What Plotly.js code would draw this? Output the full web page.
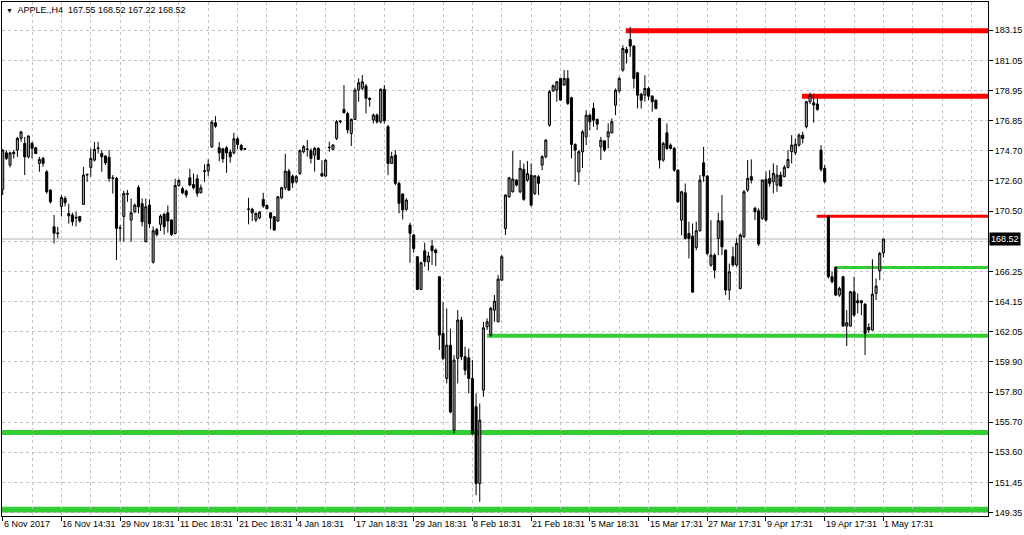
<!DOCTYPE html>
<html>
<head>
<meta charset="utf-8">
<script src="https://cdn.plot.ly/plotly-3.0.1.min.js"></script>
<style>
html,body{margin:0;padding:0;background:#fff;}
#chart{width:1024px;height:535px;}
</style>
</head>
<body>
<div id="chart"></div>
<script>
// ---------- DATA ----------
const symbol = 'APPLE.,H4';

const open = [
172.0,174.56,173.7,174.5,174.75,175.57,175.22,174.28,175.22,174.91,
173.82,174.17,173.23,171.95,169.38,168.95,170.8,171.36,170.3,170.2,
170.05,170.1,170.95,173.0,173.54,174.05,174.85,174.52,174.33,174.24,
172.77,172.77,169.27,170.1,171.66,169.85,170.43,172.13,171.0,168.33,
170.9,166.9,169.19,169.55,170.25,170.36,169.85,168.91,172.27,172.04,
171.88,172.81,172.34,172.74,171.76,173.25,173.28,174.98,176.66,174.91,
174.84,174.91,174.61,174.56,175.54,175.08,174.86,170.6,170.6,169.85,
170.01,171.3,170.88,170.36,170.08,169.78,171.41,172.11,173.28,172.93,
172.54,173.12,174.64,174.8,174.71,174.4,174.87,173.12,172.93,174.95,
174.8,175.57,176.74,177.6,177.32,175.92,176.9,178.96,179.08,179.24,
178.38,176.86,177.21,176.74,179.01,176.39,173.82,174.4,172.42,171.67,
170.6,169.5,168.8,167.28,164.99,167.7,166.93,168.03,167.75,165.88,
161.9,158.75,161.08,155.13,160.15,162.84,160.27,160.2,158.75,156.77,
151.39,157.93,162.37,161.79,163.54,162.72,165.64,169.26,171.48,171.83,
172.65,171.83,173.4,172.65,173.0,171.71,172.88,173.7,174.29,176.5,
178.89,178.96,179.77,179.31,179.77,178.42,175.15,173.23,174.63,175.68,
177.2,177.67,176.9,174.98,175.4,175.68,175.96,177.9,178.9,180.36,
181.8,182.5,182.04,180.17,178.67,178.6,179.07,178.53,178.25,176.97,
174.05,175.96,175.1,174.87,173.35,169.84,171.76,168.91,168.72,167.93,
169.1,173.86,172.93,166.69,167.39,168.56,169.8,167.74,164.94,167.28,
166.7,165.06,168.68,171.95,172.89,170.67,170.5,169.97,172.7,172.77,
172.54,172.3,173.0,172.89,173.54,174.64,174.57,175.1,175.8,176.39,
178.14,178.07,177.98,174.75,173.47,170.13,165.88,166.53,164.59,165.88,
162.42,162.42,164.82,164.19,164.19,163.96,162.33,162.14,164.71,166.3,
167.55
];
const high = [
174.8,174.75,174.63,174.75,175.68,176.1,175.68,175.8,175.33,174.98,
174.28,174.28,173.35,172.0,170.2,169.38,171.6,171.53,171.0,170.36,
170.43,170.13,173.58,173.1,174.87,175.33,175.33,174.75,174.4,174.75,
173.0,172.88,169.5,171.9,171.95,171.36,171.0,172.3,171.36,171.36,
171.3,169.4,169.3,170.25,170.36,170.87,169.9,172.74,172.74,172.18,
172.0,173.44,173.11,173.04,172.34,173.75,174.1,176.85,177.13,175.31,
174.91,175.03,174.8,175.96,175.68,175.19,174.91,171.41,170.71,170.36,
170.48,171.76,170.95,170.41,170.13,171.53,172.18,174.49,173.44,173.04,
173.0,174.8,175.11,175.46,174.87,174.99,174.95,174.05,174.1,175.34,
175.15,176.86,176.86,179.31,177.44,176.97,179.08,179.78,180.01,179.38,
178.45,177.32,177.32,179.08,179.31,176.51,174.64,174.75,172.54,171.72,
171.37,169.66,168.87,167.3,166.93,168.26,167.63,168.45,167.86,165.9,
164.1,163.66,162.25,160.38,163.54,163.07,160.97,160.85,160.03,157.7,
157.0,162.72,162.96,163.77,164.6,165.99,167.4,171.65,172.88,174.68,
172.72,174.05,173.8,173.98,173.82,173.0,173.0,174.4,175.52,178.96,
179.35,179.6,179.82,180.36,180.36,178.49,175.22,174.75,176.15,177.55,
177.32,178.07,176.97,175.68,175.45,176.62,176.97,179.07,179.89,182.1,
182.0,183.39,182.1,180.24,178.77,180.0,179.19,178.6,178.3,177.02,
175.33,176.62,175.22,174.98,173.4,171.9,172.41,169.73,169.61,169.73,
173.0,174.98,173.0,169.84,167.51,170.36,171.6,167.79,166.8,167.98,
168.56,168.91,171.95,174.05,174.1,170.79,170.67,172.7,173.24,173.35,
173.82,173.7,173.24,173.7,174.75,175.8,175.57,175.92,176.04,178.21,
178.77,178.72,178.6,175.1,173.7,170.2,166.23,166.58,165.18,165.92,
163.54,164.9,165.88,164.71,164.24,164.01,162.61,167.1,165.76,167.63,
168.52
];
const low = [
171.6,174.05,173.54,174.17,174.28,175.33,173.0,174.17,174.17,174.47,
173.23,173.58,171.7,171.0,168.21,168.56,170.1,170.8,169.6,169.45,
169.4,169.66,170.92,172.53,172.88,173.95,174.52,173.23,173.7,172.53,
171.7,167.05,168.33,168.33,171.13,168.33,170.33,170.33,169.4,168.28,
169.3,166.8,168.7,169.08,168.84,168.96,168.73,168.84,172.18,171.65,
171.41,172.23,172.0,171.48,171.72,172.5,172.93,174.91,176.31,173.98,
173.86,173.16,173.86,174.45,174.8,174.68,174.75,169.55,169.78,169.71,
169.9,170.71,170.6,169.2,169.08,169.71,171.34,171.95,171.88,172.11,
172.42,173.0,174.52,174.29,173.82,173.24,174.05,172.89,172.89,174.64,
174.75,175.46,176.62,177.32,175.92,175.04,176.86,178.14,178.96,177.32,
177.79,176.62,176.6,176.62,176.62,173.0,173.8,172.3,170.32,169.9,
170.5,166.86,167.56,164.94,164.94,166.58,166.3,166.7,166.63,160.74,
160.03,158.4,156.3,154.9,158.4,160.03,158.98,157.7,154.78,150.57,
150.1,157.47,162.14,161.67,162.72,162.68,165.57,168.8,171.41,171.78,
172.2,171.72,171.2,172.53,170.78,171.6,171.6,173.35,174.17,176.39,
178.84,178.14,178.19,179.26,177.91,174.17,172.53,172.3,173.5,175.1,
176.15,176.38,176.15,174.05,174.63,174.87,175.92,177.2,178.77,180.24,
180.82,181.29,179.07,177.67,177.67,178.14,178.25,177.44,177.6,173.46,
173.93,174.75,174.8,173.23,171.06,168.79,168.49,167.16,164.75,167.74,
169.03,172.53,167.39,166.57,165.76,167.39,167.39,164.59,164.24,166.58,
166.58,164.99,168.6,171.83,172.42,169.85,168.03,169.85,169.73,172.19,
171.72,171.83,172.19,172.84,173.47,173.82,174.4,174.99,175.22,176.27,
177.98,176.67,177.51,173.24,172.42,165.76,165.41,164.52,164.47,162.37,
161.02,162.37,163.07,163.31,163.19,160.39,161.95,162.09,164.24,165.64,
167.22
];
const close = [
174.75,174.17,174.56,174.6,175.57,176.03,174.28,175.73,174.87,174.52,
174.1,173.82,171.83,171.13,168.92,168.9,171.43,171.06,170.15,169.73,
170.0,169.78,173.0,173.05,174.17,174.8,174.9,174.28,173.86,172.77,
172.8,169.27,169.3,171.72,171.7,170.36,170.9,170.78,169.73,170.78,
169.6,169.1,168.84,170.13,169.38,169.78,168.84,172.27,172.62,171.76,
171.6,172.3,172.11,171.72,172.11,173.3,173.75,176.71,176.43,174.56,
174.14,174.56,174.28,175.54,175.15,174.8,174.82,170.62,170.36,170.32,
170.41,170.83,170.64,169.99,169.15,171.48,172.11,173.28,171.95,172.46,
172.89,174.71,174.99,174.82,174.17,174.87,174.1,172.93,174.05,174.93,
175.11,176.74,176.78,177.37,176.16,176.9,178.96,179.47,179.54,178.38,
178.3,177.21,176.74,179.01,176.81,173.82,174.29,172.42,171.02,170.55,
171.25,168.92,167.86,164.99,166.86,166.93,167.33,167.7,167.56,161.79,
160.15,161.08,156.4,160.03,162.84,160.27,159.33,158.75,154.9,151.39,
155.83,162.3,162.72,163.66,164.17,165.71,167.28,171.6,172.81,172.72,
172.3,173.47,171.3,173.1,170.9,172.95,172.42,174.29,175.45,178.84,
179.26,179.54,178.26,179.77,178.02,175.15,174.75,174.64,176.03,177.2,
176.74,176.85,176.57,175.45,174.75,176.03,176.74,178.95,179.77,181.87,
181.57,182.04,179.77,178.6,178.25,179.07,178.53,178.14,177.67,174.05,
175.22,174.87,174.87,173.35,171.13,171.83,168.56,168.56,164.8,169.1,
172.65,172.93,167.51,167.39,166.34,169.8,167.97,164.94,166.22,166.7,
168.22,168.8,171.83,172.77,172.65,170.43,168.17,172.65,169.85,172.42,
173.12,173.0,172.23,173.54,174.1,175.1,175.17,175.8,175.57,178.14,
178.6,177.91,177.6,173.4,172.54,165.88,165.53,164.59,165.06,162.42,
162.65,164.82,163.19,164.05,164.05,161.91,162.14,164.66,165.22,167.51,
168.52
];

// time axis labels (one every 16 bars)
const timeLabels = ['6 Nov 2017','16 Nov 14:31','29 Nov 18:31','11 Dec 18:31','21 Dec 18:31',
  '4 Jan 18:31','17 Jan 18:31','29 Jan 18:31','8 Feb 18:31','21 Feb 18:31','5 Mar 18:31',
  '15 Mar 17:31','27 Mar 17:31','9 Apr 17:31','19 Apr 17:31','1 May 17:31'];
const timeLabelBars = [0,16,32,48,64,80,96,112,128,144,160,176,192,208,224,240];

// price scale
const priceTicks = [149.35,151.4625,153.575,155.6875,157.8,159.9125,162.025,164.1375,166.25,
  168.3625,170.475,172.5875,174.7,176.8125,178.925,181.0375,183.15];
const priceTickText = ['149.35','151.45','153.60','155.70','157.80','159.90','162.05','164.15',
  '166.25','','170.50','172.60','174.70','176.85','178.95','181.05','183.15'];

// horizontal levels (price, bar where drawn from; null = whole chart)
const resistanceLevels = [183.11, 178.53, 170.12];
const resistanceFromBar = [169.8, 217.8, 221.8];
const supportLevels = [166.53, 161.74, 154.97, 149.55];
const supportFromBar = [226.8, 132.0, null, null];

// ---------- CHART ----------
const bars = open.map((_, i) => i);
const n = open.length;
const lastPrice = close[n - 1];
const xRange = [-0.19, 268.5];
const yRange = [149.11, 185.13];

const gridColor = '#c4c4c4';
const resWidths = [5, 5, 3];
const supWidths = [3, 4, 5, 6];

const shapes = [];
// last price line
shapes.push({type:'line', xref:'paper', x0:0, x1:1, yref:'y', y0:lastPrice, y1:lastPrice,
  line:{color:'#b4b4b4', width:1}, layer:'between'});
resistanceLevels.forEach((p, k) => {
  const from = resistanceFromBar[k];
  shapes.push(from === null
    ? {type:'line', xref:'paper', x0:0, x1:1, yref:'y', y0:p, y1:p, line:{color:'#ff0000', width:resWidths[k]}, layer:'between'}
    : {type:'line', xref:'x', x0:from, x1:xRange[1], yref:'y', y0:p, y1:p, line:{color:'#ff0000', width:resWidths[k]}, layer:'between'});
});
supportLevels.forEach((p, k) => {
  const from = supportFromBar[k];
  shapes.push(from === null
    ? {type:'line', xref:'paper', x0:0, x1:1, yref:'y', y0:p, y1:p, line:{color:'#32cd32', width:supWidths[k]}, layer:'between'}
    : {type:'line', xref:'x', x0:from, x1:xRange[1], yref:'y', y0:p, y1:p, line:{color:'#32cd32', width:supWidths[k]}, layer:'between'});
});

const annotations = timeLabels.map((t, k) => ({
  xref:'x', yref:'paper', x:timeLabelBars[k], y:0, xanchor:'left', yanchor:'top',
  yshift:-1, xshift:-1, text:t, showarrow:false, font:{size:9, color:'#000'}
}));
annotations.push({
  xref:'paper', yref:'y', x:1, y:lastPrice, xanchor:'left', yanchor:'middle', xshift:1,
  text:lastPrice.toFixed(2), showarrow:false, bgcolor:'#000', borderpad:1,
  font:{size:9, color:'#fff'}
});

const trace = {
  type:'candlestick', x:bars, open:open, high:high, low:low, close:close,
  increasing:{line:{color:'#000', width:1}, fillcolor:'#a0a0a0'},
  decreasing:{line:{color:'#000', width:1}, fillcolor:'#000'},
  whiskerwidth:0, hoverinfo:'skip', showlegend:false
};

const fmt = v => v.toFixed(2);
const titleText = '<span style="font-size:7px">▼</span>  ' + symbol + '  ' +
  [open[n-1], high[n-1], low[n-1], close[n-1]].map(fmt).join(' ');

const layout = {
  width:1024, height:535,
  margin:{l:2, r:36, t:2, b:19, pad:0},
  paper_bgcolor:'#fff', plot_bgcolor:'#fff',
  showlegend:false, hovermode:false, boxgap:0.2,
  font:{family:'"Liberation Sans", Arial, sans-serif', size:9, color:'#000'},
  title:{text:titleText, font:{size:9, color:'#000'}, xref:'container', yref:'container',
    x:6/1024, y:1 - 10/535, xanchor:'left', yanchor:'middle'},
  xaxis:{
    type:'linear', range:xRange, rangeslider:{visible:false}, fixedrange:true,
    tickmode:'array', tickvals:timeLabelBars, showticklabels:false,
    ticks:'outside', ticklen:4, tickcolor:'#000', tickwidth:1,
    showgrid:true, gridcolor:gridColor, griddash:'3px,3px', gridwidth:1,
    minor:{tickmode:'linear', tick0:0, dtick:8, showgrid:true, gridcolor:gridColor, griddash:'3px,3px', gridwidth:1, ticks:''},
    showline:true, linecolor:'#000', linewidth:1, mirror:true, zeroline:false
  },
  yaxis:{
    side:'right', range:yRange, fixedrange:true,
    tickmode:'array', tickvals:priceTicks, ticktext:priceTickText,
    ticks:'outside', ticklen:4, tickcolor:'#000', tickwidth:1,
    tickfont:{size:9, color:'#000'},
    showgrid:true, gridcolor:gridColor, griddash:'3px,3px', gridwidth:1,
    showline:true, linecolor:'#000', linewidth:1, mirror:true, zeroline:false
  },
  shapes:shapes,
  annotations:annotations
};

Plotly.newPlot('chart', [trace], layout, {displayModeBar:false, staticPlot:true});
</script>
</body>
</html>
